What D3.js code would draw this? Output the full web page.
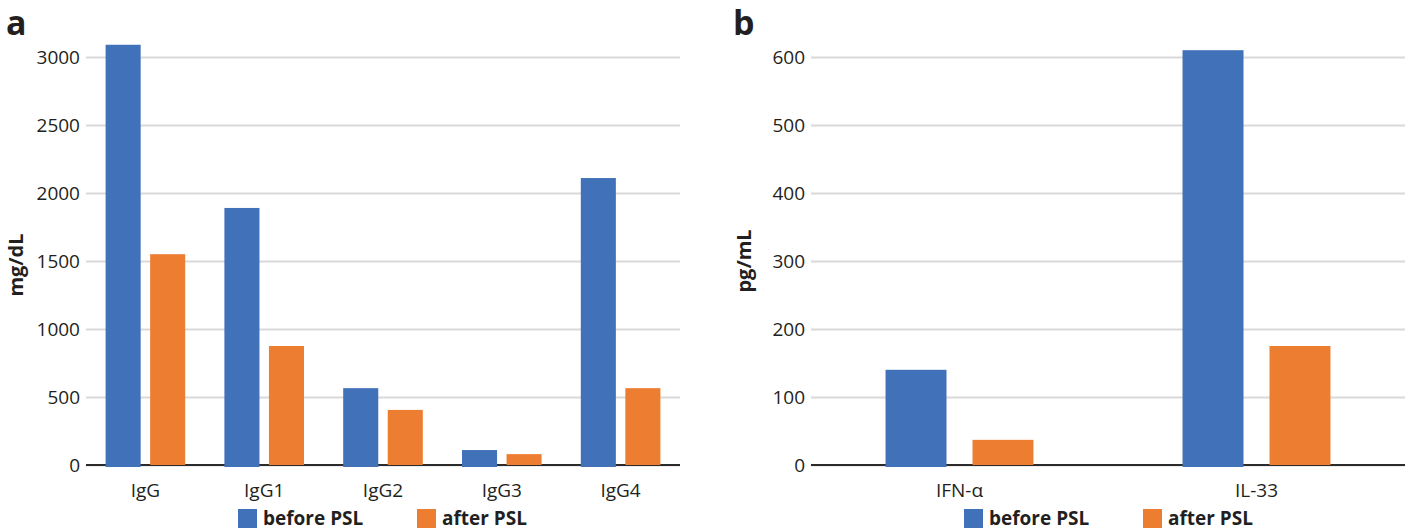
<!DOCTYPE html>
<html><head><meta charset="utf-8">
<script src="https://cdn.jsdelivr.net/npm/d3@7"></script>
<style>
body{margin:0;background:#fff;}
svg text{font-family:"Open Sans","Noto Sans",sans-serif;fill:#231f20;}
</style></head>
<body><svg id="c" width="1413" height="528"></svg>
<script>
const seriesNames = ["before PSL", "after PSL"];
const seriesColors = ["#4171b8", "#ed7d31"];

const catsA = ["IgG", "IgG1", "IgG2", "IgG3", "IgG4"];
const beforeA = [3090, 1890, 565, 110, 2110];
const afterA = [1550, 875, 405, 80, 565];
const ticksA = [0, 500, 1000, 1500, 2000, 2500, 3000];

const catsB = ["IFN-α", "IL-33"];
const beforeB = [140, 610];
const afterB = [37, 175];
const ticksB = [0, 100, 200, 300, 400, 500, 600];

const svg = d3.select("#c");

function panel(opt){
  const g = svg.append("g");
  const x0 = d3.scaleBand().domain(opt.cats).range([opt.left, opt.right]).padding(0);
  const x1 = d3.scaleBand().domain([0,1]).range([0, x0.bandwidth()])
      .paddingInner(opt.pin).paddingOuter(opt.pout);
  const y = d3.scaleLinear().domain([0, opt.ticks[opt.ticks.length-1]]).range([465, 57]);

  // gridlines
  g.selectAll("line.grid").data(opt.ticks).join("line")
    .attr("x1", opt.left).attr("x2", opt.right)
    .attr("y1", d => y(d)+0.5).attr("y2", d => y(d)+0.5)
    .attr("stroke", "#d9d9d9").attr("stroke-width", 2);

  // tick labels
  g.selectAll("text.tick").data(opt.ticks).join("text")
    .attr("x", opt.left - 6).attr("y", d => y(d)).attr("dy", "0.36em")
    .attr("text-anchor", "end").style("font-size", "19px").text(d => d);

  // axis line
  g.append("line").attr("x1", opt.left).attr("x2", opt.right)
    .attr("y1", y(0)).attr("y2", y(0)).attr("stroke", "#2b2b2b").attr("stroke-width", 2);

  // bars
  const rows = opt.cats.map((c,i) => ({c, v:[opt.before[i], opt.after[i]]}));
  const cg = g.selectAll("g.cat").data(rows).join("g")
    .attr("transform", d => `translate(${x0(d.c)},0)`);
  cg.selectAll("rect").data(d => d.v.map((v,k) => ({v,k}))).join("rect")
    .attr("x", d => x1(d.k)).attr("width", x1.bandwidth())
    .attr("y", d => y(d.v))
    .attr("height", d => y(0) - y(d.v) + (d.k === 0 ? 2 : 0))
    .attr("fill", d => seriesColors[d.k]);

  // category labels
  g.selectAll("text.cat").data(opt.cats).join("text")
    .attr("x", d => x0(d) + x0.bandwidth()/2).attr("y", 497)
    .attr("text-anchor", "middle").style("font-size", "19px").text(d => d);

  // y title
  g.append("text").attr("transform", `translate(${opt.titleX},${opt.titleY}) rotate(-90)`)
    .attr("text-anchor", "middle").style("font-size", "20px").style("font-weight", "700")
    .text(opt.unit);

  // panel letter
  g.append("text").attr("x", opt.letterX).attr("y", 35)
    .style("font-size", "34px").style("font-weight", "700").text(opt.letter);

  // legend
  seriesNames.forEach((s,k) => {
    g.append("rect").attr("x", opt.legX[k]).attr("y", 509).attr("width", 19).attr("height", 19)
      .attr("fill", seriesColors[k]);
    g.append("text").attr("x", opt.legX[k] + 25).attr("y", 525)
      .style("font-size", "19px").style("font-weight", "700").text(s);
  });
}

panel({cats:catsA, before:beforeA, after:afterA, ticks:ticksA, left:86, right:680,
  pin:0.213, pout:0.44, unit:"mg/dL", titleX:23, titleY:265, letter:"a", letterX:6, legX:[238,417]});
panel({cats:catsB, before:beforeB, after:afterB, ticks:ticksB, left:811, right:1405,
  pin:0.299, pout:0.857, unit:"pg/mL", titleX:751, titleY:261, letter:"b", letterX:733, legX:[964,1143]});
</script></body></html>
